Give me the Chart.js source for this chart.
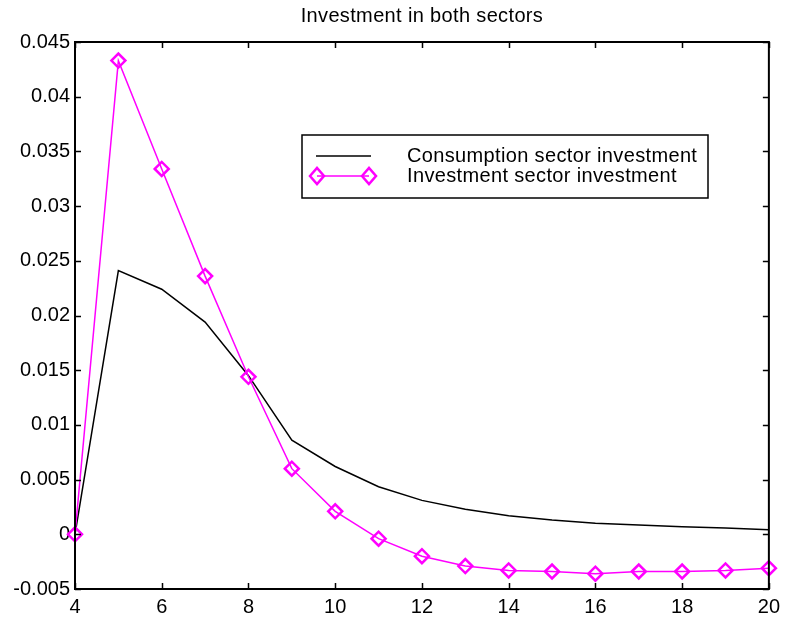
<!DOCTYPE html>
<html>
<head>
<meta charset="utf-8">
<script src="https://cdn.jsdelivr.net/npm/chart.js@4.4.1/dist/chart.umd.min.js"></script>
<style>
    html, body { margin: 0; padding: 0; background: #fff; }
    #wrap { width: 786px; height: 621px; }
</style>
</head>
<body>
<div id="wrap"><canvas id="chart" width="786" height="621"></canvas></div>
<script>
const titleText = "Investment in both sectors";
const periods = [4, 5, 6, 7, 8, 9, 10, 11, 12, 13, 14, 15, 16, 17, 18, 19, 20];
const consumption = [0, 0.0241, 0.0224, 0.0194, 0.0145, 0.0086, 0.0062, 0.00435, 0.0031, 0.0023,
    0.0017, 0.0013, 0.0010, 0.00085, 0.0007, 0.00058, 0.00042];
const investment = [0, 0.0433, 0.0334, 0.0236, 0.0144, 0.0060, 0.0021, -0.0004, -0.0020, -0.0029,
    -0.0033, -0.0034, -0.0036, -0.0034, -0.0034, -0.0033, -0.0031];
const seriesNames = ["Consumption sector investment", "Investment sector investment"];
const xRange = [4, 20];
const yRange = [-0.005, 0.045];

const FONT = "\"Liberation Sans\", Arial, sans-serif";
const MAGENTA = "#ff00ff";

function toPoints(values) {
    return values.map((v, i) => ({ x: periods[i], y: v }));
}

// box around the axes, inward ticks on all four sides, title and legend
const matlabFrame = {
    id: "matlabFrame",
    afterDatasetsDraw(chart) {
        const ctx = chart.ctx;
        const a = chart.chartArea;
        const xs = chart.scales.x;
        const ys = chart.scales.y;
        const tl = 6;

        ctx.save();
        ctx.strokeStyle = "#000";
        ctx.lineWidth = 1.5;
        ctx.beginPath();
        xs.ticks.forEach(t => {
            const px = Math.round(xs.getPixelForValue(t.value)) + 0.5;
            ctx.moveTo(px, a.bottom); ctx.lineTo(px, a.bottom - tl);
            ctx.moveTo(px, a.top); ctx.lineTo(px, a.top + tl);
        });
        ys.ticks.forEach(t => {
            const py = Math.round(ys.getPixelForValue(t.value)) + 0.5;
            ctx.moveTo(a.left, py); ctx.lineTo(a.left + tl, py);
            ctx.moveTo(a.right, py); ctx.lineTo(a.right - tl, py);
        });
        ctx.stroke();

        ctx.lineWidth = 2;
        ctx.strokeRect(a.left, a.top, a.right - a.left, a.bottom - a.top);

        // title
        ctx.fillStyle = "#000";
        ctx.font = "20px " + FONT;
        ctx.letterSpacing = "0.35px";
        ctx.textAlign = "center";
        ctx.textBaseline = "middle";
        ctx.fillText(titleText, (a.left + a.right) / 2, 16);

        // legend
        const bx = 302, by = 135, bw = 406, bh = 63;
        ctx.fillStyle = "#fff";
        ctx.fillRect(bx, by, bw, bh);
        ctx.lineWidth = 1.5;
        ctx.strokeStyle = "#000";
        ctx.strokeRect(bx, by, bw, bh);

        const row1 = 156, row2 = 176;
        ctx.beginPath();
        ctx.moveTo(316, row1); ctx.lineTo(371, row1);
        ctx.stroke();

        ctx.strokeStyle = MAGENTA;
        ctx.beginPath();
        ctx.moveTo(317, row2); ctx.lineTo(369, row2);
        ctx.stroke();
        ctx.lineWidth = 2.5;
        [317, 369].forEach(cx => {
            ctx.beginPath();
            ctx.moveTo(cx - 7, row2); ctx.lineTo(cx, row2 - 8);
            ctx.lineTo(cx + 7, row2); ctx.lineTo(cx, row2 + 8);
            ctx.closePath();
            ctx.stroke();
        });

        ctx.fillStyle = "#000";
        ctx.font = "20px " + FONT;
        ctx.textAlign = "left";
        ctx.fillText(seriesNames[0], 407, row1);
        ctx.fillText(seriesNames[1], 407, row2);
        ctx.restore();
    }
};

new Chart(document.getElementById("chart"), {
    type: "line",
    data: {
        datasets: [
            {
                label: seriesNames[1],
                data: toPoints(investment),
                borderColor: MAGENTA,
                borderWidth: 1.5,
                pointStyle: "rectRot",
                pointRadius: 7,
                pointBorderWidth: 2.5,
                pointBorderColor: MAGENTA,
                pointBackgroundColor: "transparent",
                tension: 0,
                clip: false,
                order: 1
            },
            {
                label: seriesNames[0],
                data: toPoints(consumption),
                borderColor: "#000",
                borderWidth: 1.5,
                pointRadius: 0,
                tension: 0,
                order: 2
            }
        ]
    },
    options: {
        responsive: false,
        animation: false,
        events: [],
        layout: { padding: { top: 42, right: 15, left: 0, bottom: 0 } },
        plugins: {
            legend: { display: false },
            title: { display: false },
            tooltip: { enabled: false }
        },
        scales: {
            x: {
                type: "linear",
                min: xRange[0],
                max: xRange[1],
                afterFit: scale => { scale.height = 32; },
                ticks: {
                    stepSize: 2,
                    color: "#000",
                    font: { family: FONT, size: 20 },
                    padding: 6,
                    maxRotation: 0
                },
                grid: { drawOnChartArea: false, drawTicks: false },
                border: { display: false }
            },
            y: {
                min: yRange[0],
                max: yRange[1],
                afterFit: scale => { scale.width = 75; },
                ticks: {
                    stepSize: 0.005,
                    color: "#000",
                    font: { family: FONT, size: 20 },
                    padding: 5,
                    callback: v => String(parseFloat(v.toFixed(3)))
                },
                grid: { drawOnChartArea: false, drawTicks: false },
                border: { display: false }
            }
        }
    },
    plugins: [matlabFrame]
});
</script>
</body>
</html>
